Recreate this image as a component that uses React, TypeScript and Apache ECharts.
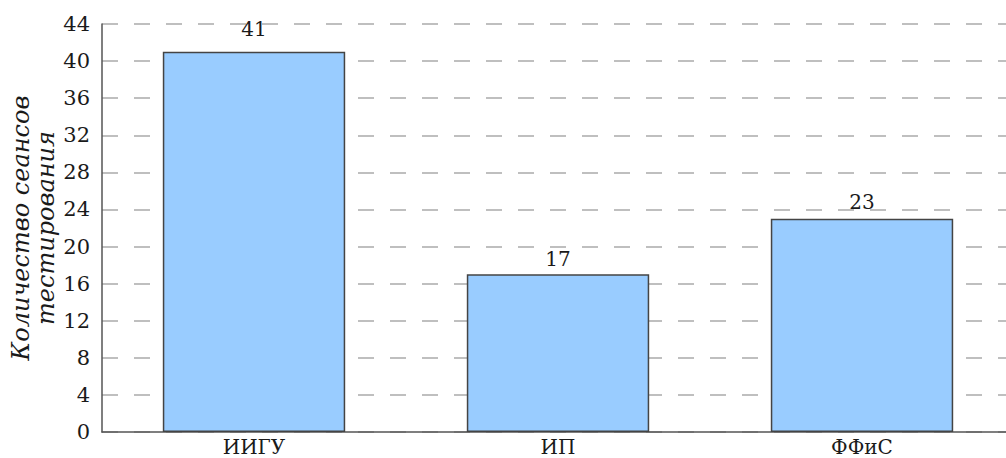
import React, { useEffect, useRef } from "react";
import * as echarts from "echarts";

const categories = ["ИИГУ", "ИП", "ФФиС"];
const values = [41, 17, 23];
const labelGaps = [13, 5, 7];
const yAxisName = "Количество сеансов\nтестирования";

export default function App() {
  const ref = useRef<HTMLDivElement>(null);
  useEffect(() => {
    if (!ref.current) return;
    const chart = echarts.init(ref.current, undefined, { renderer: "svg" });
    const font = "DejaVu Serif";
    chart.setOption({
      animation: false,
      grid: {
        left: 102,
        right: 0,
        top: 24,
        bottom: 26,
        containLabel: false,
        outerBoundsMode: "none",
      },
      xAxis: {
        type: "category",
        data: categories,
        axisLine: { lineStyle: { color: "#555", width: 1.5 } },
        axisTick: { show: false },
        axisLabel: {
          color: "#1a1a1a",
          fontFamily: font,
          fontSize: 20,
          lineHeight: 20,
          margin: 5,
        },
        splitLine: { show: false },
      },
      yAxis: {
        type: "value",
        min: 0,
        max: 44,
        interval: 4,
        name: yAxisName,
        nameLocation: "middle",
        nameGap: 44,
        nameMoveOverlap: false,
        nameRotate: 90,
        nameTextStyle: {
          fontFamily: font,
          fontStyle: "italic",
          fontSize: 24,
          lineHeight: 25,
          color: "#1a1a1a",
        },
        axisLine: { show: true, lineStyle: { color: "#555", width: 1.5 } },
        axisTick: { show: false },
        axisLabel: { color: "#1a1a1a", fontFamily: font, fontSize: 21, margin: 12 },
        splitLine: {
          show: true,
          lineStyle: { color: "#aaa", width: 1.5, type: [16, 16] },
        },
      },
      series: [
        {
          type: "bar",
          barWidth: "60%",
          data: values.map((v, i) => ({
            value: v,
            label: { distance: labelGaps[i] },
          })),
          itemStyle: { color: "#99ccff", borderColor: "#444", borderWidth: 1.5 },
          label: {
            show: true,
            position: "top",
            fontFamily: font,
            fontSize: 20,
            color: "#1a1a1a",
          },
        },
      ],
    });
    return () => chart.dispose();
  }, []);
  return (
    <div
      ref={ref}
      style={{ position: "fixed", left: 0, top: 0, width: 1014, height: 458, background: "#fff" }}
    />
  );
}
